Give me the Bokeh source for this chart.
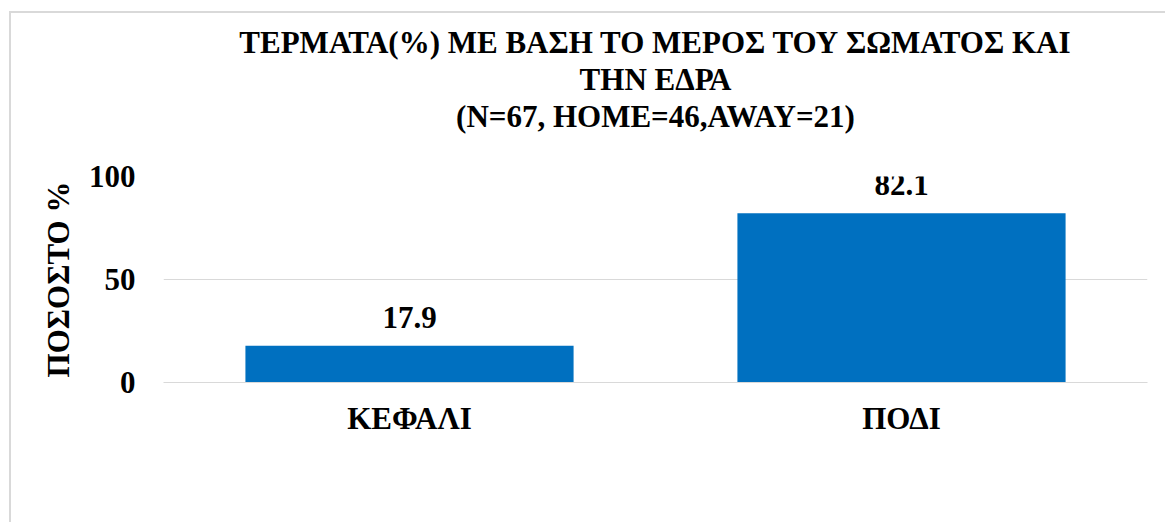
from bokeh.plotting import figure
from bokeh.models import (ColumnDataSource, FactorRange, Range1d, FixedTicker,
                          LabelSet, Legend, LegendItem, Title)
from bokeh.core.properties import value
from bokeh.embed import file_html
from bokeh.resources import INLINE

categories = ["ΚΕΦΑΛΙ", "ΠΟΔΙ"]
values = [17.9, 82.1]
labels = ["17.9", "82.1"]
series_name = "ΣΥΝΟΛΟ"
y_ticks = [0, 50, 100]
title_lines = ["ΤΕΡΜΑΤΑ(%) ΜΕ ΒΑΣΗ ΤΟ ΜΕΡΟΣ ΤΟΥ ΣΩΜΑΤΟΣ ΚΑΙ",
               "ΤΗΝ ΕΔΡΑ",
               "(N=67, HOME=46,AWAY=21)"]
y_label = "ΠΟΣΟΣΤΟ %"

FONT = "Liberation Serif"
SIZE = "31px"
BAR = "#0070C0"
GRID = "#d9d9d9"

src = ColumnDataSource(dict(cat=categories, val=values, lab=labels))

p = figure(frame_width=984, frame_height=206, output_backend="svg", toolbar_location=None,
           title=None,
           x_range=FactorRange(*categories, range_padding=0),
           y_range=Range1d(0, 100),
           min_border_left=163, min_border_right=18,
           min_border_top=176, min_border_bottom=0)
p.border_fill_color = None
p.outline_line_color = None
p.styles = {
    "background-image": "linear-gradient(%s,%s), linear-gradient(%s,%s)" % (GRID, GRID, GRID, GRID),
    "background-size": "2px 100%, 100% 2px",
    "background-position": "9px 11px, 9px 11px",
    "background-repeat": "no-repeat",
}

# spacer between title block and plot frame
p.add_layout(Title(text=" ", text_font_size="10px", standoff=30), "above")
for line in reversed(title_lines):
    p.add_layout(Title(text=line, align="center", text_font=FONT, text_font_size=SIZE,
                       text_font_style="bold", text_color="black", standoff=0), "above")

r = p.vbar(x="cat", top="val", width=0.667, source=src, color=BAR, line_color=None)

p.add_layout(LabelSet(x="cat", y="val", text="lab", source=src, y_offset=18,
                      text_align="center", text_baseline="alphabetic",
                      text_font=value(FONT), text_font_size=value(SIZE),
                      text_font_style=value("bold"), text_color="black"))

p.yaxis.ticker = FixedTicker(ticks=y_ticks)
p.yaxis.axis_line_color = None
p.yaxis.major_tick_line_color = None
p.yaxis.minor_tick_line_color = None
p.yaxis.major_tick_out = 0
p.yaxis.major_label_standoff = 28
p.yaxis.major_label_text_font = FONT
p.yaxis.major_label_text_font_size = SIZE
p.yaxis.major_label_text_font_style = "bold"
p.yaxis.major_label_text_color = "black"
p.yaxis.axis_label = y_label
p.yaxis.axis_label_text_font = FONT
p.yaxis.axis_label_text_font_size = SIZE
p.yaxis.axis_label_text_font_style = "bold"
p.yaxis.axis_label_text_color = "black"
p.yaxis.axis_label_standoff = 10

p.xaxis.axis_line_color = GRID
p.xaxis.major_tick_line_color = None
p.xaxis.major_tick_out = 0
p.xaxis.major_label_standoff = 18
p.xaxis.major_label_text_font = FONT
p.xaxis.major_label_text_font_size = SIZE
p.xaxis.major_label_text_font_style = "bold"
p.xaxis.major_label_text_color = "black"

p.xgrid.grid_line_color = None
p.ygrid.grid_line_color = GRID
p.ygrid.grid_line_width = 1

legend = Legend(items=[LegendItem(label=series_name, renderers=[r])],
                orientation="horizontal", location=(356, 0),
                label_text_font=FONT, label_text_font_size=SIZE,
                label_text_font_style="bold", label_text_color="black",
                glyph_width=16, glyph_height=16, label_standoff=7,
                border_line_color=None, background_fill_color=None,
                padding=0, margin=20)
p.add_layout(legend, "below")

open("out.html", "w").write(file_html(p, INLINE))
